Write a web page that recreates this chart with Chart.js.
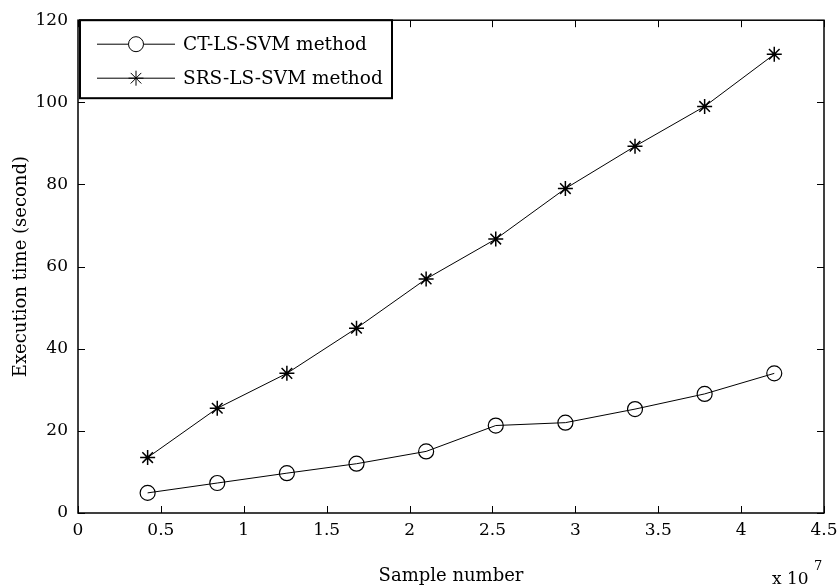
<!DOCTYPE html>
<html>
<head>
<meta charset="utf-8">
<script src="https://cdn.jsdelivr.net/npm/chart.js@4.4.1/dist/chart.umd.min.js"></script>
<style>
  html, body { margin: 0; padding: 0; background: #fff; }
  #wrap { width: 839px; height: 587px; position: relative; }
</style>
</head>
<body>
<div id="wrap"><canvas id="chart"></canvas></div>
<script>
// Sample numbers (x 10^7)
const sampleNumbers = [0.42, 0.84, 1.26, 1.68, 2.10, 2.52, 2.94, 3.36, 3.78, 4.20];
const ctTimes = [4.9, 7.3, 9.7, 12.0, 15.0, 21.3, 22.0, 25.3, 29.0, 34.0];
const srsTimes = [13.5, 25.5, 34.0, 45.0, 57.0, 66.7, 79.0, 89.3, 99.0, 111.7];
const seriesLabels = ['CT-LS-SVM method', 'SRS-LS-SVM method'];
const xTicks = [0, 0.5, 1, 1.5, 2, 2.5, 3, 3.5, 4, 4.5];
const yTicks = [0, 20, 40, 60, 80, 100, 120];

const FONT = '"DejaVu Serif", "Liberation Serif", serif';

function points(ys) {
    return sampleNumbers.map((x, i) => ({ x: x, y: ys[i] }));
}

// Box, inward ticks, legend and exponent label, MATLAB style
const matlabFrame = {
    id: 'matlabFrame',
    afterDraw(chart) {
        const { ctx, chartArea: a, scales } = chart;
        const tick = 7;
        ctx.save();
        ctx.strokeStyle = '#000';
        ctx.lineWidth = 1.5;
        ctx.strokeRect(a.left, a.top, a.right - a.left, a.bottom - a.top);

        ctx.lineWidth = 1;
        ctx.beginPath();
        xTicks.forEach(v => {
            const px = Math.round(scales.x.getPixelForValue(v)) + 0.5;
            ctx.moveTo(px, a.bottom); ctx.lineTo(px, a.bottom - tick);
            ctx.moveTo(px, a.top); ctx.lineTo(px, a.top + tick);
        });
        yTicks.forEach(v => {
            const py = Math.round(scales.y.getPixelForValue(v)) + 0.5;
            ctx.moveTo(a.left, py); ctx.lineTo(a.left + tick, py);
            ctx.moveTo(a.right, py); ctx.lineTo(a.right - tick, py);
        });
        ctx.stroke();

        // legend
        const lx = a.left + 2, ly = a.top, lw = 312, lh = 78;
        ctx.fillStyle = '#fff';
        ctx.fillRect(lx, ly, lw, lh);
        ctx.lineWidth = 2;
        ctx.strokeRect(lx, ly, lw, lh);
        const rows = [ly + 24, ly + 58];
        chart.data.datasets.forEach((ds, i) => {
            const y = rows[i];
            ctx.lineWidth = 1;
            ctx.beginPath();
            ctx.moveTo(lx + 17, y); ctx.lineTo(lx + 95, y);
            ctx.stroke();
            Chart.helpers.drawPoint(ctx, {
                pointStyle: ds.pointStyle, radius: ds.pointRadius, borderWidth: 1
            }, lx + 56, y);
            ctx.fillStyle = '#000';
            ctx.font = '18.5px ' + FONT;
            ctx.textBaseline = 'middle';
            ctx.textAlign = 'left';
            ctx.fillText(ds.label, lx + 103, y + 1);
        });

        // exponent
        ctx.font = '17px ' + FONT;
        ctx.textBaseline = 'alphabetic';
        ctx.textAlign = 'left';
        ctx.fillText('x 10', 772, 584);
        ctx.font = '13px ' + FONT;
        ctx.fillText('7', 814, 570);
        ctx.restore();
    }
};

new Chart(document.getElementById('chart'), {
    type: 'scatter',
    data: {
        datasets: [
            {
                label: seriesLabels[0],
                data: points(ctTimes),
                showLine: true,
                borderColor: '#000',
                backgroundColor: 'transparent',
                borderWidth: 1,
                pointStyle: 'circle',
                pointRadius: 7.5,
                pointBorderColor: '#000',
                pointBackgroundColor: 'transparent',
                pointBorderWidth: 1.2
            },
            {
                label: seriesLabels[1],
                data: points(srsTimes),
                showLine: true,
                borderColor: '#000',
                backgroundColor: 'transparent',
                borderWidth: 1,
                pointStyle: 'star',
                pointRadius: 7.5,
                pointBorderColor: '#000',
                pointBorderWidth: 1.5
            }
        ]
    },
    options: {
        responsive: true,
        maintainAspectRatio: false,
        animation: false,
        layout: { padding: { top: 20, right: 15, left: 0, bottom: 0 } },
        plugins: {
            legend: { display: false },
            tooltip: { enabled: false }
        },
        scales: {
            x: {
                type: 'linear',
                min: 0,
                max: 4.5,
                afterBuildTicks: s => { s.ticks = xTicks.map(v => ({ value: v })); },
                afterFit: s => { s.height = 74; s.paddingLeft = 0; s.paddingRight = 0; },
                grid: { display: false, drawTicks: false },
                border: { display: false },
                ticks: {
                    color: '#000',
                    font: { family: FONT, size: 17 },
                    padding: 7,
                    maxRotation: 0,
                    callback: v => String(v)
                },
                title: {
                    display: true,
                    text: 'Sample number',
                    color: '#000',
                    font: { family: FONT, size: 18 },
                    padding: { top: 8, bottom: 0 }
                }
            },
            y: {
                min: 0,
                max: 120,
                afterBuildTicks: s => { s.ticks = yTicks.map(v => ({ value: v })); },
                afterFit: s => { s.width = 78; },
                grid: { display: false, drawTicks: false },
                border: { display: false },
                ticks: {
                    color: '#000',
                    font: { family: FONT, size: 17 },
                    padding: 10
                },
                title: {
                    display: true,
                    text: 'Execution time (second)',
                    color: '#000',
                    font: { family: FONT, size: 18 },
                    padding: { top: 11, bottom: 0 }
                }
            }
        }
    },
    plugins: [matlabFrame]
});
</script>
</body>
</html>
